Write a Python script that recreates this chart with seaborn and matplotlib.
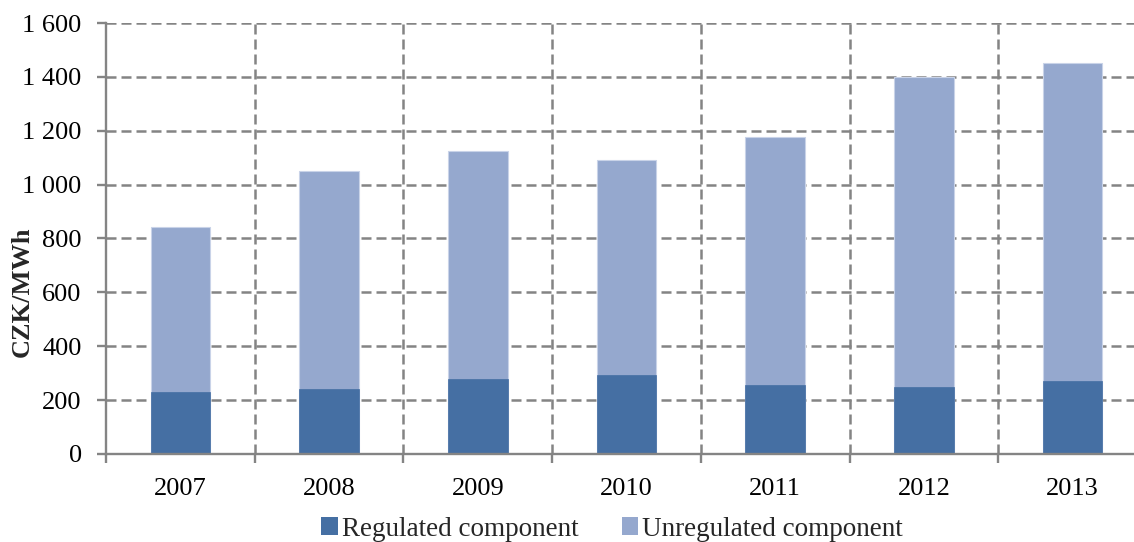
import matplotlib
matplotlib.use("Agg")
import matplotlib.pyplot as plt
from matplotlib.ticker import FuncFormatter, FixedLocator
from matplotlib.patches import Patch
import seaborn as sns
import pandas as pd

# Electricity price components, CZK/MWh
years = ["2007", "2008", "2009", "2010", "2011", "2012", "2013"]
regulated = [229, 241, 277, 295, 258, 250, 270]
unregulated = [614, 808, 847, 796, 918, 1150, 1181]
series_names = ["Regulated component", "Unregulated component"]
y_ticks = [0, 200, 400, 600, 800, 1000, 1200, 1400, 1600]

reg_color = "#456FA3"
unreg_color = "#95A8CE"
grid_color = "#848484"

sns.set_theme(style="white")
plt.rcParams["font.family"] = ["Liberation Serif", "DejaVu Serif"]

df = pd.DataFrame({"year": years, "regulated": regulated, "unregulated": unregulated})
df["total"] = df["regulated"] + df["unregulated"]

fig = plt.figure(figsize=(11.34, 5.42), dpi=100)
ax = fig.add_axes([106 / 1134, 88 / 542, 1041 / 1134, 431 / 542])

# stacked bars: full height in the light colour, regulated part on top of it
sns.barplot(data=df, x="year", y="total", color=unreg_color, width=0.4,
            saturation=1, edgecolor="#C9D3E8", linewidth=0.8, ax=ax, zorder=3)
sns.barplot(data=df, x="year", y="regulated", color=reg_color, width=0.4,
            saturation=1, edgecolor=reg_color, linewidth=0.5, ax=ax, zorder=4)

ax.set_ylim(0, 1600)
ax.set_xlim(-0.5, len(years) - 0.5)
ax.yaxis.set_major_locator(FixedLocator(y_ticks))
ax.yaxis.set_major_formatter(FuncFormatter(lambda v, p: f"{int(v):,}".replace(",", " ")))

# category boundaries carry the x ticks and vertical grid lines
bounds = [i - 0.5 for i in range(len(years) + 1)]
ax.xaxis.set_minor_locator(FixedLocator(bounds))
ax.tick_params(axis="x", which="major", length=0, pad=17, labelsize=19, colors="black")
ax.tick_params(axis="x", which="minor", length=6.5, width=1.7, color=grid_color, bottom=True)
ax.tick_params(axis="y", which="major", length=6.5, width=1.7, color=grid_color, left=True,
               pad=11, labelsize=19, labelcolor="black")

dash = (0, (4.0, 2.0))
ax.grid(False)
for b in bounds[1:]:
    ax.axvline(b, color=grid_color, linestyle=dash, linewidth=1.8, zorder=1)
for t in y_ticks[1:]:
    ax.axhline(t, color=grid_color, linestyle=dash, linewidth=1.8, zorder=1)

for side in ["top", "right"]:
    ax.spines[side].set_visible(False)
for side in ["left", "bottom"]:
    ax.spines[side].set_color(grid_color)
    ax.spines[side].set_linewidth(1.7)
    ax.spines[side].set_zorder(5)

ax.set_xlabel("")
ax.set_ylabel("CZK/MWh", fontsize=19, fontweight="bold")
ax.yaxis.set_label_coords(-72 / 1041, 0.376)

handles = [Patch(facecolor=reg_color, edgecolor="none"),
           Patch(facecolor=unreg_color, edgecolor="none")]
fig.legend(handles, series_names, loc="center", bbox_to_anchor=(612 / 1134, 13 / 542),
           ncol=2, frameon=False, fontsize=19.5, handlelength=0.62, handleheight=0.62,
           handletextpad=0.15, columnspacing=1.6, borderpad=0)

fig.savefig("out.png", dpi=100)
